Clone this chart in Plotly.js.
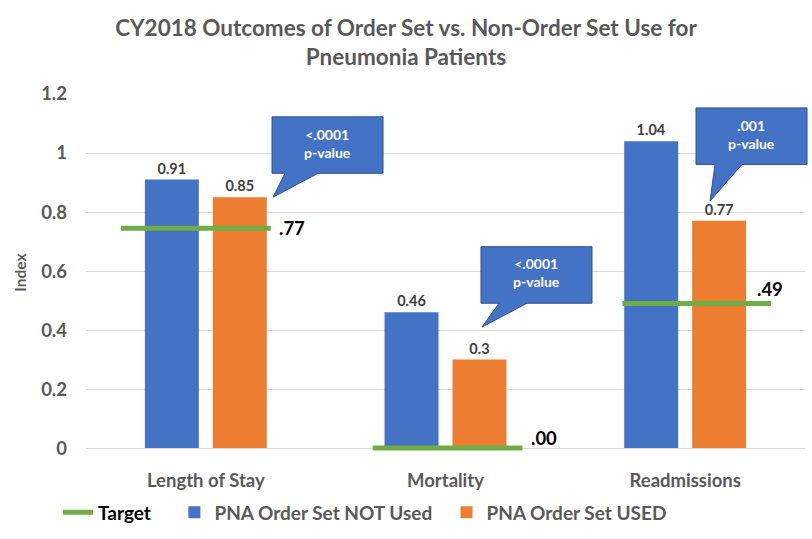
<!DOCTYPE html>
<html>
<head>
<meta charset="utf-8">
<script src="https://cdn.plot.ly/plotly-3.0.1.min.js"></script>
<style>html,body{margin:0;padding:0;background:#fff;}#chart{width:812px;height:539px;}</style>
</head>
<body>
<div id="chart"></div>
<script>
// ---- data ----
var categories = ["Length of Stay", "Mortality", "Readmissions"];
var notUsed = [0.91, 0.46, 1.04];
var used = [0.85, 0.3, 0.77];
var targets = [0.745, 0.0, 0.49];
var targetLabels = [".77", ".00", ".49"];
var pValues = ["<.0001", "<.0001", ".001"];
var seriesNames = ["Target", "PNA Order Set NOT Used", "PNA Order Set USED"];

// ---- layout geometry ----
var W = 812, H = 539;
var M = {l: 86, r: 7, t: 94, b: 85};
var PW = W - M.l - M.r, PH = H - M.t - M.b;
function px(x) { return (x - M.l) / PW; }
function py(y) { return (H - M.b - y) / PH; }

var FONT = "Lato, 'Open Sans', sans-serif";
var GRAY = "#595959";
var NB = "\u00A0";

// target line extents (relative to category centre) - styling positions
var tgtLeft = [-0.354, -0.304, -0.262];
var tgtRight = [0.271, 0.321, 0.358];
var tx = [], ty = [];
for (var i = 0; i < categories.length; i++) {
  tx.push(i + tgtLeft[i], i + tgtRight[i], null);
  ty.push(targets[i], targets[i], null);
}

var labelFont = {family: FONT, size: 14.5, color: "#404040", weight: "bold"};
var traces = [
  {
    type: "bar", name: seriesNames[1] + NB + NB, x: categories, y: notUsed,
    marker: {color: "#4472C4"}, text: notUsed.map(String), textposition: "outside",
    textfont: labelFont, cliponaxis: false, legendrank: 2, hoverinfo: "none"
  },
  {
    type: "bar", name: seriesNames[2], x: categories, y: used,
    marker: {color: "#ED7D31"}, text: used.map(String), textposition: "outside",
    textfont: labelFont, cliponaxis: false, legendrank: 3, hoverinfo: "none"
  },
  {
    type: "scatter", mode: "lines",
    name: "<span style='color:#000'>" + seriesNames[0] + "</span>" + NB + NB + NB + NB,
    x: tx, y: ty, xaxis: "x2", yaxis: "y", connectgaps: false,
    line: {color: "#70AD47", width: 5}, legendrank: 1, hoverinfo: "none", cliponaxis: false
  }
];

// callouts (speech bubbles) in pixel geometry
var callouts = [
  {rect: [272, 117, 383, 174], base: [285, 318], tip: [273, 198]},
  {rect: [481, 248, 592, 305], base: [499, 527], tip: [482, 329]},
  {rect: [696, 108, 807, 165], base: [715, 742], tip: [710, 202]}
];
var shapes = [], annotations = [];
callouts.forEach(function (c, i) {
  var r = c.rect;
  var p = "M" + px(r[0]) + "," + py(r[1]) +
    " L" + px(r[2]) + "," + py(r[1]) +
    " L" + px(r[2]) + "," + py(r[3]) +
    " L" + px(c.base[1]) + "," + py(r[3]) +
    " L" + px(c.tip[0]) + "," + py(c.tip[1]) +
    " L" + px(c.base[0]) + "," + py(r[3]) +
    " L" + px(r[0]) + "," + py(r[3]) + " Z";
  shapes.push({type: "path", xref: "paper", yref: "paper", path: p,
    fillcolor: "#4472C4", line: {color: "#2F528F", width: 1}, layer: "above"});
  annotations.push({xref: "paper", yref: "paper", x: px((r[0] + r[2]) / 2), y: py((r[1] + r[3]) / 2 - 2),
    xanchor: "center", yanchor: "middle",
    text: "<b>" + pValues[i].replace("<", "&lt;") + "<br>p-value</b>", showarrow: false,
    font: {family: FONT, size: 14, color: "#fff"}, align: "center"});
});

// target value labels
var tlPos = [[292, 229], [544, 441], [770, 291]];
targetLabels.forEach(function (t, i) {
  annotations.push({xref: "paper", yref: "paper", x: px(tlPos[i][0]), y: py(tlPos[i][1]),
    xanchor: "center", yanchor: "middle",
    text: "<b>" + t + "</b>", showarrow: false, font: {family: FONT, size: 18.5, color: "#000"}});
});

var layout = {
  width: W, height: H, margin: M,
  paper_bgcolor: "#fff", plot_bgcolor: "#fff",
  title: {
    text: "<b>CY2018 Outcomes of Order Set vs. Non-Order Set Use for<br>Pneumonia Patients</b>",
    font: {family: FONT, size: 22.5, color: GRAY}, x: 0.5, xref: "container", xanchor: "center",
    y: 1 - 36 / H, yanchor: "middle", yref: "container"
  },
  barmode: "group", bargap: 0.433, bargroupgap: 0.206,
  xaxis: {
    type: "category", showgrid: false, showline: false, zeroline: false, ticks: "",
    tickfont: {family: FONT, size: 18.5, color: GRAY, weight: "bold"}, ticklabelstandoff: 16, fixedrange: true
  },
  xaxis2: {overlaying: "x", range: [-0.5, 2.5], visible: false, fixedrange: true},
  yaxis: {
    range: [-0.01, 1.2], dtick: 0.2, tick0: 0, showgrid: true, gridcolor: "#D9D9D9", gridwidth: 1,
    zeroline: true, zerolinecolor: "#D9D9D9", zerolinewidth: 1, showline: false, ticks: "",
    tickfont: {family: FONT, size: 18.5, color: GRAY, weight: "bold"}, ticklabelstandoff: 18,
    title: {text: "<b>Index</b>", font: {family: FONT, size: 15.5, color: GRAY}, standoff: 10},
    fixedrange: true
  },
  legend: {
    orientation: "h", x: px(58), xanchor: "left", y: py(516), yanchor: "middle",
    font: {family: FONT, size: 19, color: GRAY, weight: "bold"}, bgcolor: "rgba(0,0,0,0)",
    itemwidth: 30
  },
  shapes: shapes,
  annotations: annotations,
  showlegend: true
};

Plotly.newPlot("chart", traces, layout, {staticPlot: true, displayModeBar: false});
</script>
</body>
</html>
